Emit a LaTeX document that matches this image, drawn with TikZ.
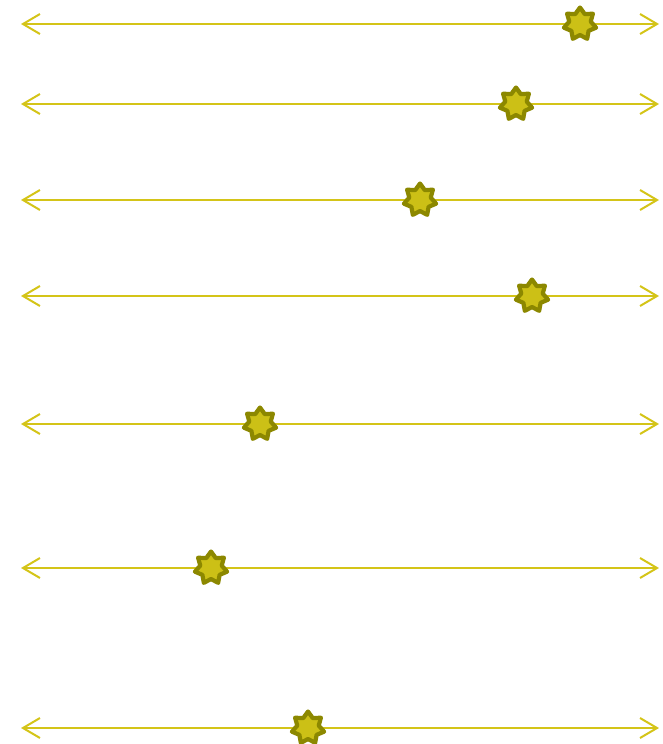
\documentclass[tikz,border=0pt]{standalone}
\usetikzlibrary{arrows.meta,shapes.geometric}
\definecolor{linecol}{RGB}{212,196,24}
\definecolor{starfill}{RGB}{204,192,22}
\definecolor{starline}{RGB}{140,136,0}
\begin{document}
\begin{tikzpicture}[x=1pt,y=-1pt,
  axis/.style={draw=linecol,line width=2pt,{Straight Barb[length=17pt,width=20pt,line width=2pt]}-{Straight Barb[length=17pt,width=20pt,line width=2pt]}},
  marker/.style={star,star points=7,star point ratio=1.5,minimum size=33pt,inner sep=0pt,fill=starfill,draw=starline,line width=4.2pt,line join=round}]
\useasboundingbox (0,0) rectangle (663,744);
\foreach \i/\y/\sx in {1/24/580,2/104/516,3/200/420,4/296/532,5/424/260,6/568/211,7/728/308}{
  \coordinate (l\i) at (21,\y);
  \coordinate (r\i) at (659,\y);
  \draw[axis] (l\i) -- (r\i);
  \node[marker] (s\i) at (\sx,\y) {};
}
\end{tikzpicture}
\end{document}
